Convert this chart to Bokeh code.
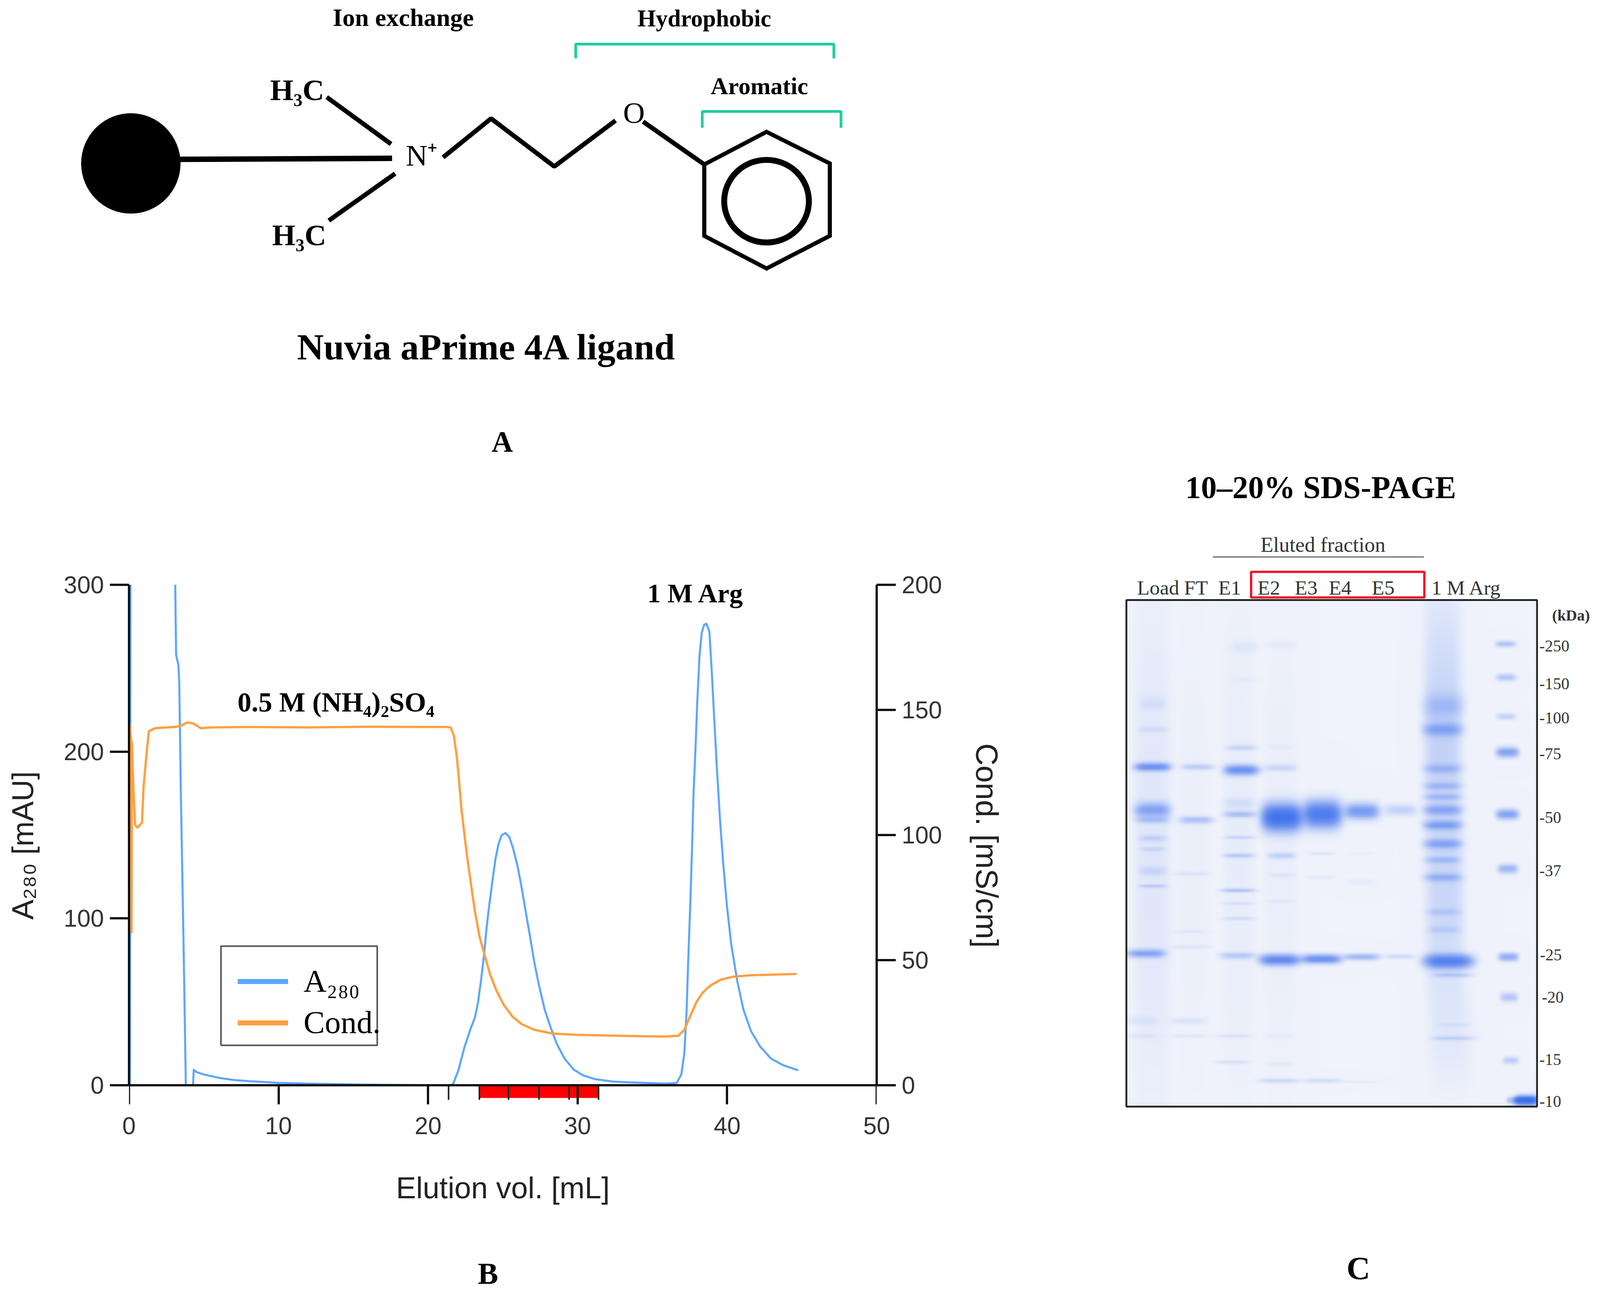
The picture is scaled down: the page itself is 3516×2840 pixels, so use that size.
import numpy as np
from bokeh.embed import file_html
from bokeh.layouts import column, row
from bokeh.models import FixedTicker, Label, Legend, LegendItem, LinearAxis, Range1d
from bokeh.plotting import figure
from bokeh.resources import INLINE

SERIF = "Liberation Serif"
SANS = "Liberation Sans"

# chromatogram (values above 300 run off the top of the plot)
a280_vol = [0.0, 0.06, 0.11, 3.07, 3.09, 3.15, 3.3, 3.36, 3.46, 3.66, 3.8, 4.28, 4.33, 4.5, 5, 6, 7, 8, 10, 12, 15, 17, 21.5,
            21.67, 22.02, 22.43, 22.83, 23.14, 23.34, 23.54, 23.75, 23.9, 24.05, 24.2, 24.35, 24.51, 24.71, 24.91, 25.17, 25.42,
            25.67, 25.98, 26.23, 26.48, 26.79, 27.09, 27.4, 27.8, 28.21, 28.61, 29.12, 29.73, 30.34, 31.15, 32.37, 33.38, 35.82,
            36.63, 36.94, 37.14, 37.29, 37.39, 37.54, 37.65, 37.75, 37.9, 38.0, 38.15, 38.3, 38.46, 38.61, 38.81, 38.96, 39.12,
            39.32, 39.52, 39.73, 39.98, 40.28, 40.69, 41.09, 41.6, 42.21, 42.92, 43.73, 44.75]
a280_mau = [0, 0, 400, 400, 300, 258, 252, 241, 179, 78, 0, 0, 9.3, 8, 6.5, 4.5, 3.2, 2.5, 1.5, 1, 0.5, 0.3, 0,
            0.7, 8.8, 22.7, 33.6, 40.9, 49.7, 62.8, 78.9, 93.5, 105, 115.4, 125.6, 135.9, 144.6, 149.8, 151.2, 149,
            142.5, 131.5, 119.8, 106.7, 90.6, 74.5, 60.6, 45.3, 34.3, 24.8, 16.1, 9.5, 6.1, 3.7, 2.2, 1.8, 1,
            1.4, 6.6, 19.5, 45.3, 73, 109.8, 141.2, 174.4, 205.7, 229.7, 257.3, 271.2, 276.1, 276.7, 272.1, 250, 222.3,
            189.1, 159.6, 133.8, 108, 84, 61.9, 45.3, 32.4, 23.2, 16.1, 12.1, 9]
cond_vol = [0.05, 0.15, 0.17, 0.19, 0.3, 0.4, 0.57, 0.87, 0.97, 1.18, 1.33, 1.73, 2.5, 3.0, 3.4, 3.9, 4.3, 4.8, 5.5, 8, 12, 16, 20,
            21.21, 21.51, 21.72, 21.92, 22.07, 22.22, 22.43, 22.63, 22.88, 23.14, 23.44, 23.8, 24.15, 24.56, 25.06, 25.67, 26.28,
            27.09, 28.31, 29.83, 33.38, 35.82, 36.73, 37.14, 37.54, 37.95, 38.36, 38.86, 39.57, 40.38, 41.6, 42.92, 44.65]
cond_ms = [144, 137, 61, 137, 118, 104, 103, 105, 119, 133, 141.5, 142.7, 143, 143.2, 143.5, 145, 144.6, 142.7, 143, 143.2, 143, 143.3, 143.2,
           143.2, 143, 139.8, 131.5, 121.8, 111, 100.3, 90.6, 79.9, 69.2, 59.4, 51.6, 44.3, 38, 32.1, 27.3, 24.4,
           22.2, 20.7, 20.2, 19.7, 19.5, 19.8, 22.2, 27.8, 33.3, 37, 39.8, 42.2, 43.4, 44, 44.2, 44.5]
vol_ticks = [0, 10, 20, 30, 40, 50]
a280_ticks = [0, 100, 200, 300]
cond_ticks = [0, 50, 100, 150, 200]
fraction_edges = [21.37, 23.43, 25.38, 27.42, 29.43, 31.4]

# gel, one entry per band: x, y, half width, half height, strength
load_bands = [(185, 716, 54, 9, .75), (185, 815, 54, 16, .55), (185, 838, 50, 7, .25), (185, 880, 42, 7, .15), (185, 905, 38, 5, .12),
              (185, 955, 42, 10, .12), (185, 990, 42, 4, .2), (165, 1145, 58, 9, .55), (185, 630, 44, 7, .1), (185, 570, 42, 14, .08),
              (185, 900, 55, 530, .07), (150, 1300, 48, 10, .07), (150, 1335, 48, 5, .07)]
ft_bands = [(325, 716, 50, 7, .22), (320, 838, 52, 8, .3), (305, 962, 58, 5, .07), (300, 1095, 58, 4, .05), (300, 1130, 62, 4, .07),
            (295, 1300, 58, 8, .08), (295, 1335, 58, 4, .06), (310, 900, 52, 500, .02)]
e1_bands = [(460, 723, 52, 11, .8), (460, 672, 47, 6, .16), (455, 825, 50, 7, .3), (455, 800, 50, 13, .1), (455, 878, 47, 4, .16),
            (452, 920, 47, 5, .25), (450, 1000, 52, 4, .28), (450, 1030, 52, 4, .08), (450, 1065, 52, 4, .1), (448, 1150, 54, 7, .25),
            (435, 1335, 58, 4, .08), (430, 1395, 52, 4, .1), (470, 440, 42, 12, .06), (470, 515, 42, 7, .03), (450, 900, 50, 520, .035)]
e2_bands = [(585, 832, 60, 28, 1.4), (580, 718, 52, 8, .15), (585, 920, 42, 7, .2), (585, 965, 42, 5, .06), (585, 1025, 42, 4, .05),
            (578, 1160, 60, 12, .9), (575, 1438, 62, 5, .16), (585, 435, 42, 8, .04), (578, 670, 32, 4, .05), (575, 1335, 42, 4, .05),
            (575, 1400, 42, 4, .05), (580, 900, 52, 520, .025)]
e3_bands = [(710, 825, 57, 28, 1.2), (705, 915, 42, 4, .08), (705, 970, 42, 6, .05), (707, 1158, 59, 10, .8), (710, 1438, 60, 5, .13)]
e4_bands = [(832, 818, 52, 17, .7), (832, 1153, 54, 7, .4), (832, 915, 42, 4, .03), (830, 980, 47, 8, .04), (830, 1440, 62, 3, .04)]
e5_bands = [(952, 815, 48, 13, .2), (950, 1152, 44, 5, .15)]
arg_bands = [(1085, 575, 62, 26, .22), (1082, 630, 60, 14, .45), (1082, 720, 57, 10, .28), (1082, 760, 57, 8, .25), (1082, 785, 57, 7, .25),
             (1082, 815, 58, 11, .42), (1082, 850, 57, 10, .5), (1082, 893, 57, 10, .45), (1082, 930, 54, 7, .25), (1082, 970, 57, 9, .32),
             (1085, 1050, 52, 8, .15), (1085, 1090, 52, 8, .12), (1100, 1163, 74, 15, 1.0), (1115, 1195, 62, 5, .2), (1115, 1340, 67, 5, .16),
             (1115, 1310, 52, 4, .06), (1082, 650, 57, 300, .2), (1090, 1050, 57, 200, .13), (1110, 1330, 67, 120, .05)]
marker_bands = [(1276, 433, 30, 7, .32), (1278, 510, 30, 8, .28), (1278, 600, 30, 7, .2), (1282, 682, 34, 11, .6), (1282, 825, 34, 11, .6),
                (1283, 950, 30, 10, .42), (1285, 1153, 30, 9, .5), (1287, 1246, 27, 10, .28), (1292, 1391, 24, 8, .25), (1340, 1483, 35, 10, 1.6),
                (1300, 1483, 20, 7, .35)]

lane_names = ["Load", "FT", "E1", "E2", "E3", "E4", "E5", "1 M Arg"]
lane_pos = [203, 320, 424, 545, 660, 765, 898, 1155]
kda_names = ["-250", "-150", "-100", "-75", "-50", "-37", "-25", "-20", "-15", "-10"]
kda_x = [1380, 1380, 1380, 1380, 1380, 1380, 1382, 1388, 1380, 1380]
kda_y = [438, 525, 604, 686, 833, 955, 1148, 1246, 1389, 1485]


def blank(w, h, xr, yr):
    f = figure(width=w, height=h, x_range=xr, y_range=yr, output_backend="svg", toolbar_location=None,
               x_axis_type=None, y_axis_type=None, min_border=0)
    f.outline_line_color = None
    f.grid.visible = False
    return f


def txt(f, x, y, s, size, font=SERIF, style="bold", color="black"):
    f.text([x], [y], text=[s], text_font=font, text_font_size=size, text_font_style=style, text_color=color,
           text_align="center", text_baseline="middle")


# ---- panel A, ligand sketch (page units of 1568 wide)
pa = blank(3500, 1020, Range1d(0, 1560.9), Range1d(454.9, 0))
pa.ellipse([128], [160], width=97, height=98, color="black")
pa.line([176, 384], [156, 155], line_color="black", line_width=12)
pa.multi_line([[320, 383], [387, 322], [434, 481, 543, 603], [630, 690]], [[95, 141], [170, 216], [154, 116, 163, 118], [119, 161]],
              line_color="black", line_width=10)
pa.line([690, 751, 813, 813, 751, 690, 690], [161, 129, 160, 231, 263, 231, 161], line_color="black", line_width=9, line_join="miter")
pa.ellipse([751], [197], width=83, height=81, fill_color=None, line_color="black", line_width=13)
pa.multi_line([[564, 564, 817, 817], [688, 688, 824, 824]], [[57, 43, 43, 57], [125, 109, 109, 125]], line_color="#1ECFA0", line_width=6)
txt(pa, 395, 17, "Ion exchange", "55px")
txt(pa, 690, 18, "Hydrophobic", "52px")
txt(pa, 744, 84, "Aromatic", "53px")
txt(pa, 291, 88, "H₃C", "66px")
txt(pa, 293, 230, "H₃C", "66px")
txt(pa, 413, 152, "N⁺", "66px", style="normal")
txt(pa, 621, 110, "O", "66px", style="normal")
txt(pa, 477, 340, "Nuvia aPrime 4A ligand", "81px")
txt(pa, 492, 433, "A", "65px", font=SANS)

# ---- panel B, chromatogram
# the frame runs a little below y = 0 so the pooled fractions under the axis do not get clipped
pb = figure(width=2400, height=1740, x_range=Range1d(0, 50), y_range=Range1d(-12.5, 300), output_backend="svg",
            toolbar_location=None, min_border_left=283, min_border_right=474, min_border_top=265, min_border_bottom=329)
pb.extra_y_ranges = {"cond": Range1d(-8.333, 200)}
pb.outline_line_color = None
pb.grid.visible = False

# bottom axis only carries the labels, line and ticks come from a second axis pinned at y = 0
pb.xaxis.ticker = vol_ticks
pb.xaxis.axis_label = "Elution vol. [mL]"
pb.xaxis.axis_label_standoff = 78
pb.yaxis.ticker = a280_ticks
pb.yaxis.bounds = (0, 300)
pb.yaxis.axis_label = "A₂₈₀ [mAU]"
pb.yaxis.axis_label_standoff = 50
cond_axis = LinearAxis(y_range_name="cond", ticker=cond_ticks, bounds=(0, 200), axis_label="Cond. [mS/cm]", axis_label_standoff=58)
pb.add_layout(cond_axis, "right")
zero_axis = LinearAxis(fixed_location=0, ticker=FixedTicker(ticks=vol_ticks), major_label_text_font_size="0px", major_label_standoff=0,
                       major_label_overrides={t: "" for t in vol_ticks})
pb.add_layout(zero_axis, "below")
for ax in [pb.xaxis[0], pb.yaxis[0], cond_axis, zero_axis]:
    ax.axis_line_width = 5
    ax.axis_line_color = "#111111"
    ax.major_tick_line_width = 5
    ax.major_tick_line_color = "#111111"
    ax.major_tick_in = 0
    ax.major_tick_out = 42
    ax.minor_tick_line_color = None
    ax.major_label_text_font = SANS
    ax.major_label_text_color = "#333333"
    ax.axis_label_text_font = SANS
    ax.axis_label_text_font_size = "66px"
    ax.axis_label_text_font_style = "normal"
    ax.axis_label_text_color = "#222222"
for ax in [pb.xaxis[0], pb.yaxis[0], cond_axis]:
    ax.major_label_text_font_size = "53px"
    ax.major_label_standoff = 13
cond_axis.axis_label_text_font_size = "68px"
label_axis = pb.xaxis[0]
label_axis.axis_line_color = None
label_axis.major_tick_line_color = None
label_axis.major_tick_out = 0
label_axis.major_label_standoff = 24

pb.quad(left=fraction_edges[1:-1], right=fraction_edges[2:], bottom=-7.6, top=0, fill_color="#FF0000", line_color=None)
pb.segment(x0=fraction_edges, x1=fraction_edges, y0=0, y1=-8.7, line_color="#222222", line_width=3.5)
pb.line(a280_vol, a280_mau, line_color="#5CA6FF", line_width=4.5, line_join="round")
pb.line(cond_vol, cond_ms, y_range_name="cond", line_color="#FF9F40", line_width=5, line_join="round")

# legend frame sits behind a borderless legend, "Cond." spills over it in the original
pb.quad(left=[6.15], right=[16.6], bottom=[24], top=[83.4], fill_color=None, line_color="#555555", line_width=3.5)
key_a = pb.line([0, 1], [float("nan")] * 2, line_color="#5CA6FF", line_width=11)
key_c = pb.line([0, 1], [float("nan")] * 2, line_color="#FF9F40", line_width=11)
legend = Legend(items=[LegendItem(label="A₂₈₀", renderers=[key_a]), LegendItem(label="Cond.", renderers=[key_c])],
                location=(239, 143), padding=0, margin=0, glyph_width=111, glyph_height=40, label_height=76, spacing=11,
                label_standoff=34, label_text_font=SERIF, label_text_font_size="70px", label_text_color="black",
                background_fill_alpha=0, border_line_alpha=0)
pb.add_layout(legend, "center")

for x, y, s, size in [(13.84, 229.6, "0.5 M (NH₄)₂SO₄", "61px"), (37.9, 295, "1 M Arg", "59px")]:
    pb.add_layout(Label(x=x, y=y, text=s, text_font=SERIF, text_font_size=size, text_font_style="bold", text_color="black",
                        text_align="center", text_baseline="middle"))

# ---- panel C, gel
pc = blank(1100, 1740, Range1d(0, 1545.6), Range1d(1839.8, 20.9))

gx, gy = np.meshgrid(np.arange(105, 1374, 2.0), np.arange(333, 1498, 2.0))
stain = np.zeros_like(gx)
for lane in [load_bands, ft_bands, e1_bands, e2_bands, e3_bands, e4_bands, e5_bands, arg_bands, marker_bands]:
    for bx, by, bw, bh, bs in lane:
        stain += bs * np.exp(-((gx - bx) / bw) ** 4) * np.exp(-((gy - by) / bh) ** 2)
cover = (1 - np.exp(-1.15 * stain))[:, :, None]
rgb = (np.array([240, 243, 251]) * (1 - cover) + np.array([25, 85, 235]) * cover).astype(np.uint32)
img = rgb[:, :, 0] | rgb[:, :, 1] << 8 | rgb[:, :, 2] << 16 | 255 << 24
# on this flipped y range the image hangs down from its anchor, first row on top
pc.image_rgba(image=[img], x=105, y=333, dw=1268, dh=1164)
pc.quad(left=[105], right=[1373], top=[333], bottom=[1497], fill_color=None, line_color="#222222", line_width=4)

txt(pc, 705, 75, "10–20% SDS-PAGE", "69px")
txt(pc, 712, 206, "Eluted fraction", "46px", style="normal", color="#333333")
pc.line([372, 1024], [234, 234], line_color="#777777", line_width=3)
pc.quad(left=[490], right=[1025], top=[268], bottom=[327], fill_color=None, line_color="#EE1122", line_width=5)
pc.text(lane_pos, [305] * len(lane_pos), text=lane_names, text_font=SERIF, text_font_size="45px", text_color="#333333",
        text_align="center", text_baseline="middle")
pc.text(kda_x, kda_y, text=kda_names, text_font=SERIF, text_font_size="36px", text_color="#333333", text_align="left", text_baseline="middle")
txt(pc, 1478, 368, "(kDa)", "34px", color="#333333")

# ---- strip with the panel letters under B and C
pd = blank(3500, 78, Range1d(0, 1560.9), Range1d(1265.7, 1230.9))
txt(pd, 478, 1248, "B", "67px")
txt(pd, 1331, 1243, "C", "72px")

page = column(pa, row(pb, column(pc), spacing=0), pd, spacing=0)
open("out.html", "w").write(file_html(page, INLINE))
